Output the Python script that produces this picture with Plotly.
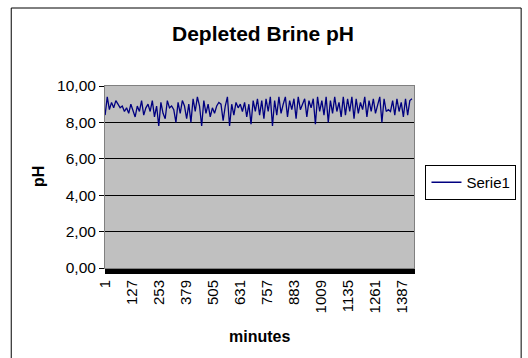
import plotly.graph_objects as go

# ---- data ----
minutes = list(range(1, 1441, 10))  # sample every 10 minutes
ph_values = [
    8.4, 9.4, 8.7, 9.1, 8.8, 9.2, 9.0, 8.8, 8.9, 8.6,
    8.8, 8.5, 9.0, 8.7, 8.3, 8.9, 8.6, 9.2, 8.4, 8.8,
    9.0, 8.6, 9.2, 8.3, 8.9, 7.8, 9.1, 8.5, 8.2, 9.2,
    8.8, 8.9, 8.7, 8.0, 9.1, 8.5, 9.2, 8.9, 8.2, 9.0,
    8.0, 9.3, 8.6, 9.4, 8.9, 7.8, 9.2, 8.5, 9.0, 8.3,
    8.8, 8.5, 8.9, 9.1, 9.0, 8.1, 8.9, 9.4, 7.8, 9.0,
    8.4, 9.1, 8.8, 9.0, 8.6, 9.1, 8.3, 9.0, 7.9, 9.2,
    8.6, 9.3, 8.4, 9.2, 8.2, 9.3, 8.6, 9.4, 7.8, 9.2,
    8.4, 9.4, 8.5, 9.0, 9.4, 8.3, 9.2, 8.7, 9.3, 8.2,
    9.4, 8.7, 9.0, 9.3, 8.3, 9.2, 8.8, 9.3, 7.9, 9.4,
    8.6, 9.2, 8.4, 9.4, 8.0, 9.2, 8.5, 9.4, 8.6, 9.1,
    8.3, 9.4, 8.4, 9.3, 8.6, 9.4, 8.2, 9.3, 8.5, 9.1,
    8.7, 9.4, 8.3, 9.2, 8.6, 9.3, 8.5, 8.9, 9.4, 8.0,
    9.3, 8.6, 8.7, 8.6, 9.2, 8.4, 9.3, 8.6, 9.1, 8.3,
    9.3, 8.4, 9.2, 9.3,
]
x_tick_vals = [1, 127, 253, 379, 505, 631, 757, 883, 1009, 1135, 1261, 1387]
x_tick_text = [str(v) for v in x_tick_vals]
y_tick_vals = [0, 2, 4, 6, 8, 10]
y_tick_text = ["0,00", "2,00", "4,00", "6,00", "8,00", "10,00"]
n_categories = 1440

FONT = "Arial, 'Liberation Sans', sans-serif"

fig = go.Figure()
fig.add_trace(go.Scatter(
    x=minutes, y=ph_values, mode="lines", name="Serie1",
    line=dict(color="#000080", width=1.3),
))

fig.update_layout(
    width=528, height=358,
    margin=dict(l=105, r=100, t=86, b=90),
    paper_bgcolor="white",
    plot_bgcolor="#C0C0C0",
    font=dict(family=FONT, size=15, color="black"),
    showlegend=True,
    legend=dict(
        x=(440 - 105) / 323, y=(268 - 165) / 182,
        xanchor="left", yanchor="top",
        bordercolor="black", borderwidth=1, bgcolor="white",
        font=dict(family=FONT, size=15, color="black"),
        itemwidth=30, tracegroupgap=0,
    ),
    xaxis=dict(
        range=[0.5, n_categories + 0.5],
        tickmode="array", tickvals=x_tick_vals, ticktext=x_tick_text,
        tickangle=-90, ticks="outside", ticklen=5, tickcolor="black",
        tickfont=dict(family=FONT, size=15, color="black"),
        showgrid=False, zeroline=False,
        showline=True, linecolor="#808080", linewidth=1, mirror=True,
        minor=dict(tickmode="linear", tick0=0.5, dtick=1, ticks="outside",
                   ticklen=5, tickcolor="black", showgrid=False),
    ),
    yaxis=dict(
        range=[0, 10],
        tickmode="array", tickvals=y_tick_vals, ticktext=y_tick_text,
        ticks="outside", ticklen=5, tickcolor="black",
        tickfont=dict(family=FONT, size=15.5, color="black"),
        showgrid=True, gridcolor="black", gridwidth=1,
        zeroline=False,
        showline=True, linecolor="#808080", linewidth=1, mirror=True,
    ),
    annotations=[
        dict(text="<b>Depleted Brine pH</b>", xref="paper", yref="paper",
             x=0.51, y=(268 - 34) / 182, xanchor="center", yanchor="middle",
             showarrow=False, font=dict(family=FONT, size=21, color="black")),
        dict(text="<b>pH</b>", xref="paper", yref="paper",
             x=(35 - 105) / 323, y=0.5, xanchor="center", yanchor="middle",
             textangle=-90, showarrow=False,
             font=dict(family=FONT, size=16, color="black")),
        dict(text="<b>minutes</b>", xref="paper", yref="paper",
             x=0.5, y=(268 - 336) / 182, xanchor="center", yanchor="middle",
             showarrow=False, font=dict(family=FONT, size=16, color="black")),
    ],
    shapes=[
        dict(type="rect", xref="paper", yref="paper",
             x0=(7 - 105) / 323, x1=(540 - 105) / 323,
             y0=(268 - 370) / 182, y1=(268 - 8) / 182,
             line=dict(color="black", width=1), fillcolor="rgba(0,0,0,0)",
             layer="below"),
    ],
)

fig.write_html("out.html")
